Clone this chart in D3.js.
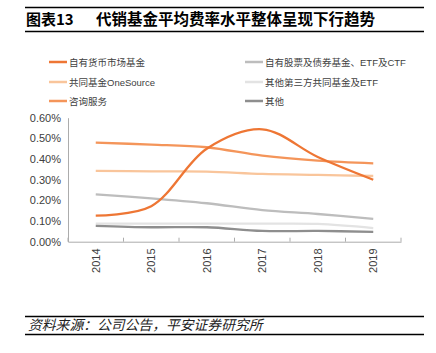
<!DOCTYPE html>
<html><head><meta charset="utf-8">
<script src="https://cdn.jsdelivr.net/npm/d3@7"></script>
<style>
body{margin:0;background:#fff;}
svg{display:block;}
</style></head>
<body>
<svg id="c" width="436" height="353"></svg>
<script>
const years = ["2014","2015","2016","2017","2018","2019"];
const seriesNames = ["自有货币市场基金","共同基金OneSource","咨询服务","自有股票及债券基金、ETF及CTF","其他第三方共同基金及ETF","其他"];
const moneyMarket = [0.126,0.172,0.450,0.544,0.410,0.300];
const oneSource   = [0.343,0.340,0.339,0.328,0.323,0.318];
const advisory    = [0.479,0.470,0.457,0.416,0.392,0.379];
const equityBond  = [0.229,0.210,0.186,0.153,0.134,0.110];
const thirdParty  = [0.087,0.087,0.087,0.087,0.086,0.066];
const other       = [0.077,0.070,0.070,0.052,0.052,0.048];
const yTicks = [0,0.1,0.2,0.3,0.4,0.5,0.6];
const colors = ["#EE7634","#F9C59B","#F4955A","#BDBDBD","#E3E3E3","#8E8E8E"];
const seriesValues = [moneyMarket,oneSource,advisory,equityBond,thirdParty,other];

const svg = d3.select("#c");
const font = "'Liberation Sans', Arial, 'Noto Sans CJK SC', sans-serif";
const cjk = "'Noto Sans CJK SC', sans-serif";

// title
svg.append("line").attr("x1",25).attr("x2",424).attr("y1",7.5).attr("y2",7.5).attr("stroke","#000").attr("stroke-width",1.3);
svg.append("line").attr("x1",25).attr("x2",424).attr("y1",31.5).attr("y2",31.5).attr("stroke","#000").attr("stroke-width",1.3);
svg.append("text").attr("x",26).attr("y",25).attr("font-family",cjk).attr("font-weight","bold").attr("font-size",15).text("图表13");
svg.append("text").attr("x",96).attr("y",25).attr("font-family",cjk).attr("font-weight","bold").attr("font-size",15.5).text("代销基金平均费率水平整体呈现下行趋势");

// footer
svg.append("line").attr("x1",25).attr("x2",424).attr("y1",316.5).attr("y2",316.5).attr("stroke","#000").attr("stroke-width",1.3);
svg.append("line").attr("x1",25).attr("x2",424).attr("y1",334.5).attr("y2",334.5).attr("stroke","#000").attr("stroke-width",1.3);
svg.append("text").attr("x",28).attr("y",330).attr("font-family",cjk).attr("font-style","italic").attr("font-size",13.8).attr("fill","#222").text("资料来源：公司公告，平安证券研究所");

// legend
const legPos = [[49,62],[49,82],[49,101],[245,62],[245,82],[245,101]];
const legOrder = [0,1,2,3,4,5];
legOrder.forEach((i,k)=>{
  const [lx,ly] = legPos[k];
  svg.append("line").attr("x1",lx).attr("x2",lx+18).attr("y1",ly).attr("y2",ly).attr("stroke",colors[i]).attr("stroke-width",2.5);
  svg.append("text").attr("x",lx+20).attr("y",ly+3.5).attr("font-family",font).attr("font-size",9.5).attr("fill","#404040").text(seriesNames[i]);
});

// chart
const pLeft=68, pRight=401, pTop=117.7, pBottom=241.7;
const x = d3.scaleBand().domain(years).range([pLeft,pRight]);
const y = d3.scaleLinear().domain([0,0.6]).range([pBottom,pTop]);

const yAxis = svg.append("g").attr("transform",`translate(${pLeft},0)`)
  .call(d3.axisLeft(y).tickValues(yTicks).tickFormat(d=>d.toFixed(2)+"%").tickSize(0).tickSizeOuter(0));
yAxis.select(".domain").attr("stroke","#ACACAC");
yAxis.selectAll(".tick text").attr("font-family",font).attr("font-size",11).attr("fill","#404040").attr("x",-7);

const xAxis = svg.append("g").attr("transform",`translate(0,${pBottom})`)
  .call(d3.axisBottom(x).tickSize(0).tickSizeOuter(0));
xAxis.select(".domain").attr("stroke","#ACACAC");
const bounds = years.map(yr=>x(yr)).concat([pRight]);
xAxis.selectAll(".bt").data(bounds).enter().append("line").attr("class","bt")
  .attr("x1",d=>d).attr("x2",d=>d).attr("y1",0).attr("y2",-4).attr("stroke","#ACACAC");
xAxis.selectAll(".tick text").attr("font-family",font).attr("font-size",11).attr("fill","#404040")
  .attr("transform","rotate(-90)").attr("text-anchor","middle").attr("x",-19).attr("y",0).attr("dy","0.35em");

const line = d3.line().x((d,i)=>x(years[i])+x.bandwidth()/2).y(d=>y(d)).curve(d3.curveCatmullRom.alpha(0.5));
const drawOrder = [4,5,3,1,2,0];
drawOrder.forEach(i=>{
  svg.append("path").attr("d",line(seriesValues[i])).attr("fill","none").attr("stroke",colors[i]).attr("stroke-width",2.3);
});
</script>
</body></html>
